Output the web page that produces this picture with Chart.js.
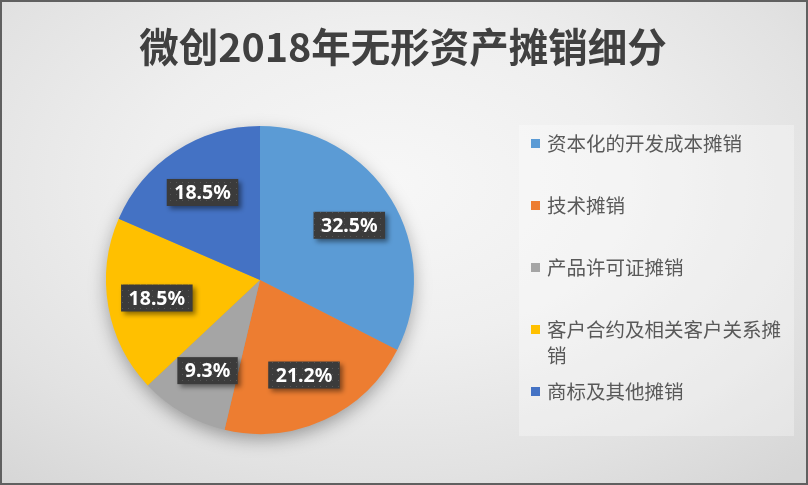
<!DOCTYPE html>
<html>
<head>
<meta charset="utf-8">
<script src="https://cdn.jsdelivr.net/npm/chart.js@4.4.1/dist/chart.umd.min.js"></script>
<style>
  html, body { margin: 0; padding: 0; }
  #wrap {
    position: relative; width: 808px; height: 485px; overflow: hidden;
    background: radial-gradient(ellipse 75% 80% at 48% 38%, #f7f7f7 0%, #efefef 40%, #e2e2e2 75%, #d6d6d6 100%);
    font-family: "Noto Sans CJK SC", "Noto Sans", sans-serif;
  }
  #chart { position: absolute; left: 0; top: 0; }
  #title {
    position: absolute; left: 0; top: 23px; width: 806px; text-align: center;
    font-size: 39.5px; font-weight: 700; line-height: 44px; color: #404040;
  }
  #legendBox {
    position: absolute; left: 519px; top: 125px; width: 275px; height: 311px;
    background: rgba(255,255,255,0.3);
  }
  #legend { position: absolute; left: 531px; top: 130px; }
  .item { display: flex; align-items: flex-start; height: 62px; }
  .sw { width: 9px; height: 9px; margin-top: 9px; margin-right: 7px; flex: none; }
  .txt { width: 245px; font-size: 19.5px; line-height: 26px; color: #595959; }
  #frame {
    position: absolute; left: 0; top: 0; width: 808px; height: 485px; box-sizing: border-box;
    border: 2px solid #606060; pointer-events: none;
  }
</style>
</head>
<body>
<div id="wrap">
  <canvas id="chart" width="808" height="485"></canvas>
  <div id="title">微创2018年无形资产摊销细分</div>
  <div id="legendBox"></div>
  <div id="legend"></div>
  <div id="frame"></div>
</div>
<script>
const categories = ["资本化的开发成本摊销", "技术摊销", "产品许可证摊销", "客户合约及相关客户关系摊销", "商标及其他摊销"];
const shares = [32.5, 21.2, 9.3, 18.5, 18.5];
const colors = ["#5B9BD5", "#ED7D31", "#A5A5A5", "#FFC000", "#4472C4"];

// dotted dark fill for the value boxes
const pc = document.createElement("canvas");
pc.width = 6; pc.height = 6;
const pctx = pc.getContext("2d");
pctx.fillStyle = "#3b3b3b";
pctx.fillRect(0, 0, 6, 6);
pctx.fillStyle = "#575757";
pctx.fillRect(2, 2, 1, 1);

const pieShadow = {
  id: "pieShadow",
  beforeDatasetsDraw(chart) {
    const arc = chart.getDatasetMeta(0).data[0];
    if (!arc) return;
    const ctx = chart.ctx;
    ctx.save();
    ctx.shadowColor = "rgba(0,0,0,0.35)";
    ctx.shadowBlur = 18;
    ctx.shadowOffsetY = 6;
    ctx.fillStyle = "#999";
    ctx.beginPath();
    ctx.arc(arc.x, arc.y, arc.outerRadius - 1, 0, Math.PI * 2);
    ctx.fill();
    ctx.restore();
  }
};

const valueBoxes = {
  id: "valueBoxes",
  afterDatasetsDraw(chart) {
    const ctx = chart.ctx;
    const pattern = ctx.createPattern(pc, "repeat");
    ctx.save();
    ctx.font = 'bold 19.5px "Noto Sans"';
    ctx.textAlign = "center";
    ctx.textBaseline = "middle";
    chart.getDatasetMeta(0).data.forEach((arc, i) => {
      const mid = (arc.startAngle + arc.endAngle) / 2;
      const r = arc.outerRadius * 0.68;
      const x = arc.x + Math.cos(mid) * r;
      const y = arc.y + Math.sin(mid) * r;
      const text = shares[i].toFixed(1) + "%";
      const w = ctx.measureText(text).width + 15;
      const h = 27;
      ctx.shadowColor = "rgba(0,0,0,0.45)";
      ctx.shadowBlur = 5;
      ctx.shadowOffsetX = 3;
      ctx.shadowOffsetY = 3;
      ctx.fillStyle = pattern;
      ctx.fillRect(x - w / 2, y - h / 2, w, h);
      ctx.shadowColor = "transparent";
      ctx.fillStyle = "#ffffff";
      ctx.fillText(text, x, y + 1);
    });
    ctx.restore();
  }
};

new Chart(document.getElementById("chart"), {
  type: "pie",
  data: {
    labels: categories,
    datasets: [{
      data: shares,
      backgroundColor: colors,
      borderWidth: 0
    }]
  },
  options: {
    responsive: false,
    animation: false,
    layout: { padding: { left: 106, right: 394, top: 126, bottom: 51 } },
    plugins: {
      legend: { display: false },
      title: { display: false },
      tooltip: { enabled: false }
    }
  },
  plugins: [pieShadow, valueBoxes]
});

const legend = document.getElementById("legend");
categories.forEach((c, i) => {
  const item = document.createElement("div");
  item.className = "item";
  item.innerHTML = '<span class="sw" style="background:' + colors[i] + '"></span><span class="txt">' + c + "</span>";
  legend.appendChild(item);
});
</script>
</body>
</html>
